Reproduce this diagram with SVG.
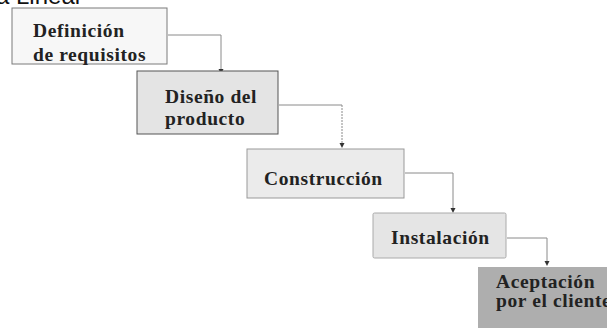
<svg xmlns="http://www.w3.org/2000/svg" width="607" height="328" viewBox="0 0 607 328">
<style>
.t{font-family:"Liberation Serif","Times New Roman",serif;font-weight:bold;font-size:19.5px;fill:#222;letter-spacing:0.6px}
.c{fill:none;stroke:#8a8a8a;stroke-width:1}
.h{fill:#333}
</style>
<text x="-4" y="4" font-family="Liberation Sans, Arial, sans-serif" font-size="24" fill="#111">a Lineal</text>
<g id="connectors">
<path class="c" d="M168,35 H221 V70"/>
<path class="h" d="M218.5,69 L223.5,69 L221,74 Z"/>
<path class="c" d="M279,105 H342"/>
<path class="c" d="M342,105 V144" stroke-dasharray="2,1"/>
<path class="h" d="M339.5,143 L344.5,143 L342,148 Z"/>
<path class="c" d="M405,173 H453 V209"/>
<path class="h" d="M450.5,208 L455.5,208 L453,213 Z"/>
<path class="c" d="M507,238 H547 V262"/>
<path class="h" d="M544.5,261 L549.5,261 L547,266 Z"/>
</g>
<g id="n1">
<rect x="12" y="8" width="155" height="56" fill="#f7f7f7" stroke="#7a7a7a"/>
<text class="t" x="33" y="37">Definición</text>
<text class="t" x="33" y="61">de requisitos</text>
</g>
<g id="n2">
<rect x="137" y="71" width="141" height="63" fill="#e4e4e4" stroke="#555"/>
<text class="t" x="165" y="103">Diseño del</text>
<text class="t" x="165" y="125">producto</text>
</g>
<g id="n3">
<rect x="247" y="149" width="157" height="49" fill="#ebebeb" stroke="#999"/>
<text class="t" x="264" y="185">Construcción</text>
</g>
<g id="n4">
<rect x="373" y="213" width="133" height="45" rx="1.5" fill="#e5e5e5" stroke="#aaa"/>
<text class="t" x="391" y="244">Instalación</text>
</g>
<g id="n5">
<rect x="478" y="267" width="140" height="70" fill="#aeaeae"/>
<text class="t" x="496" y="288">Aceptación</text>
<text class="t" x="496" y="307">por el cliente</text>
</g>
</svg>
